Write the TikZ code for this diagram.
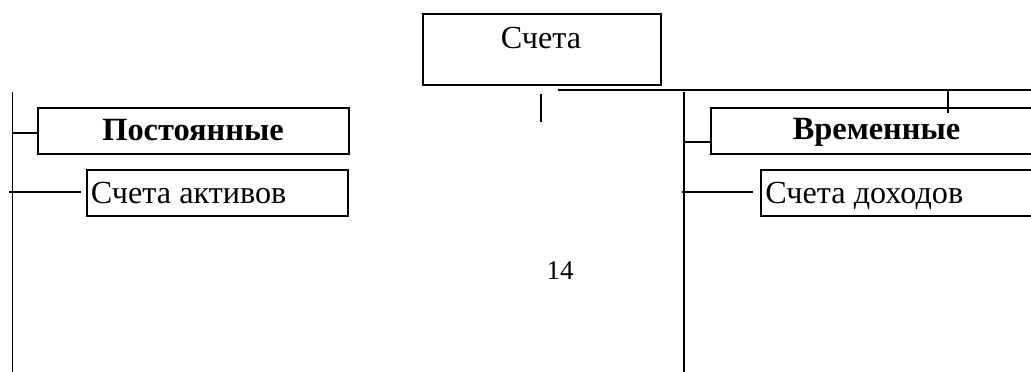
\documentclass[tikz,border=0pt]{standalone}
\usepackage{fontspec}
\setmainfont{Liberation Serif}
\begin{document}
\begin{tikzpicture}[x=1pt,y=-1pt,line width=1.8pt,
  box/.style={draw,line width=2pt,inner sep=0pt,anchor=north west},
  txt/.style={inner sep=0pt,font=\fontsize{32.2}{38}\selectfont},
  btxt/.style={inner sep=0pt,anchor=base,font=\fontsize{32.4}{38}\selectfont\bfseries}]
\useasboundingbox (0,0) rectangle (1031,372);
\clip (0,0) rectangle (1031,372);
% boxes
\node[box,minimum width=238pt,minimum height=71pt] (top) at (422,13) {};
\node[box,minimum width=311pt,minimum height=46pt] (post) at (37,107) {};
\node[box,minimum width=261pt,minimum height=46pt] (akt) at (86,169) {};
\node[box,minimum width=340pt,minimum height=46pt] (vrem) at (710,107) {};
\node[box,minimum width=300pt,minimum height=46pt] (doh) at (760,169) {};
% texts
\node[txt,anchor=base] (ttop) at (541,48) {Счета};
\node[btxt] (tpost) at (193,140) {Постоянные};
\node[btxt] (tvrem) at (876.5,139) {Временные};
\node[txt,anchor=base west] (takt) at (90,203) {Счета активов};
\node[txt,anchor=base west] (tdoh) at (764.5,203) {Счета доходов};
\node[inner sep=0pt,anchor=base,font=\fontsize{27}{32}\selectfont] (page) at (560,279) {14};
% connector coordinates
\coordinate (hs) at (558,90);
\coordinate (he) at (1040,90);
\coordinate (tick) at (948,90);
\coordinate (ms) at (541,94);
\coordinate (me) at (541,122);
\coordinate (lvs) at (12.5,92);
\coordinate (lve) at (12.5,372);
\coordinate (rvs) at (684,92);
\coordinate (rve) at (684,372);
\coordinate (lb1) at (12.5,133);
\coordinate (lb2s) at (9,192);
\coordinate (lb2e) at (81,192);
\coordinate (rb1) at (684,142);
\coordinate (rb2s) at (682,192);
\coordinate (rb2e) at (753,192);
% connectors
\draw (hs) -- (he);
\draw (tick) -- (tick |- 0,113);
\draw (ms) -- (me);
\draw (lvs) -- (lve);
\draw (rvs) -- (rve);
\draw (lb1) -- (lb1 -| post.west);
\draw (lb2s) -- (lb2e);
\draw (rb1) -- (rb1 -| vrem.west);
\draw (rb2s) -- (rb2e);
\end{tikzpicture}
\end{document}
